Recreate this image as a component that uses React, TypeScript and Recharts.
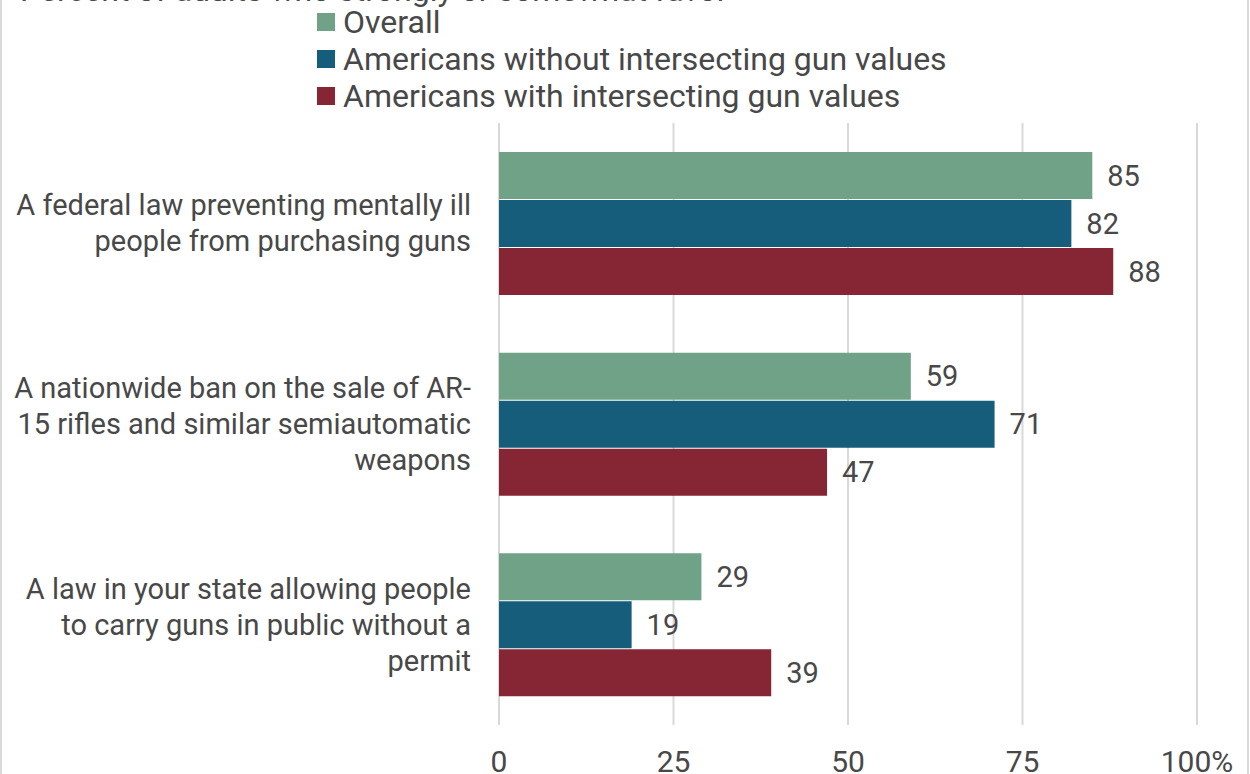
import { BarChart, Bar, XAxis, YAxis, CartesianGrid, LabelList } from 'recharts';

const categories = [
  'A federal law preventing mentally ill\npeople from purchasing guns',
  'A nationwide ban on the sale of AR-\n15 rifles and similar semiautomatic\nweapons',
  'A law in your state allowing people\nto carry guns in public without a\npermit',
];
const overall = [85, 59, 29];
const withoutIntersecting = [82, 71, 19];
const withIntersecting = [88, 47, 39];
const xTicks = [0, 25, 50, 75, 100];

const seriesNames = [
  'Overall',
  'Americans without intersecting gun values',
  'Americans with intersecting gun values',
];
const colors = ['#70a288', '#165d7b', '#862533'];

const data = categories.map((c, i) => ({
  name: c,
  overall: overall[i],
  without: withoutIntersecting[i],
  with: withIntersecting[i],
}));

const textColor = '#484848';
const font = 'Roboto, sans-serif';

// multi-line category label, right aligned against the plot
function CategoryTick(props: any) {
  const { x, y, payload } = props;
  const lines = String(payload.value).split('\n');
  const lh = 36;
  const startDy = -((lines.length - 1) * lh) / 2;
  return (
    <text x={x} y={y} textAnchor="end" fill={textColor} fontSize={29} fontFamily={font}>
      {lines.map((l, i) => (
        <tspan key={i} x={x} dy={i === 0 ? startDy + 10 : lh}>{l}</tspan>
      ))}
    </text>
  );
}

function LegendBox() {
  return (
    <div style={{ position: 'absolute', left: 317, top: 3, fontFamily: font, fontSize: 32, color: textColor, whiteSpace: 'nowrap' }}>
      {seriesNames.map((n, i) => (
        <div key={n} style={{ display: 'flex', alignItems: 'center', height: 37 }}>
          <span style={{ width: 18, height: 18, background: colors[i], marginRight: 8, display: 'inline-block' }} />
          <span>{n}</span>
        </div>
      ))}
    </div>
  );
}

export default function App() {
  return (
    <div style={{ position: 'fixed', left: 0, top: 0, width: 1250, height: 774, overflow: 'hidden', background: '#fff' }}>
      <div style={{ position: 'absolute', left: 0, top: 0, bottom: 0, width: 2, background: '#d9d9d9' }} />
      <div style={{ position: 'absolute', left: 1247, top: 0, bottom: 0, width: 2, background: '#d9d9d9' }} />
      <div style={{ position: 'absolute', left: 20, top: -29, fontFamily: font, fontSize: 32, color: textColor, whiteSpace: 'nowrap' }}>
        Percent of adults who strongly or somewhat favor
      </div>
      <LegendBox />
      <div style={{ position: 'absolute', left: 0, top: 0 }}>
        <BarChart
          width={1250}
          height={790}
          data={data}
          layout="vertical"
          margin={{ top: 123, right: 53, left: 0, bottom: 0 }}
          barCategoryGap={29}
          barGap={1}
        >
          <CartesianGrid horizontal={false} vertical stroke="#d9d9d9" strokeWidth={2} />
          <XAxis
            type="number"
            domain={[0, 100]}
            ticks={xTicks}
            axisLine={false}
            tickLine={false}
            tickMargin={20}
            height={65}
            interval={0}
            tick={{ fontSize: 30, fill: textColor, fontFamily: font }}
            tickFormatter={(v: number) => (v === 100 ? '100%' : String(v))}
          />
          <YAxis
            type="category"
            dataKey="name"
            width={499}
            axisLine={false}
            tickLine={false}
            tickMargin={22}
            interval={0}
            tick={<CategoryTick />}
          />
          <Bar dataKey="overall" name={seriesNames[0]} fill={colors[0]} isAnimationActive={false}>
            <LabelList dataKey="overall" position="right" offset={15} fill={textColor} fontSize={29} fontFamily={font} />
          </Bar>
          <Bar dataKey="without" name={seriesNames[1]} fill={colors[1]} isAnimationActive={false}>
            <LabelList dataKey="without" position="right" offset={15} fill={textColor} fontSize={29} fontFamily={font} />
          </Bar>
          <Bar dataKey="with" name={seriesNames[2]} fill={colors[2]} isAnimationActive={false}>
            <LabelList dataKey="with" position="right" offset={15} fill={textColor} fontSize={29} fontFamily={font} />
          </Bar>
        </BarChart>
      </div>
    </div>
  );
}
